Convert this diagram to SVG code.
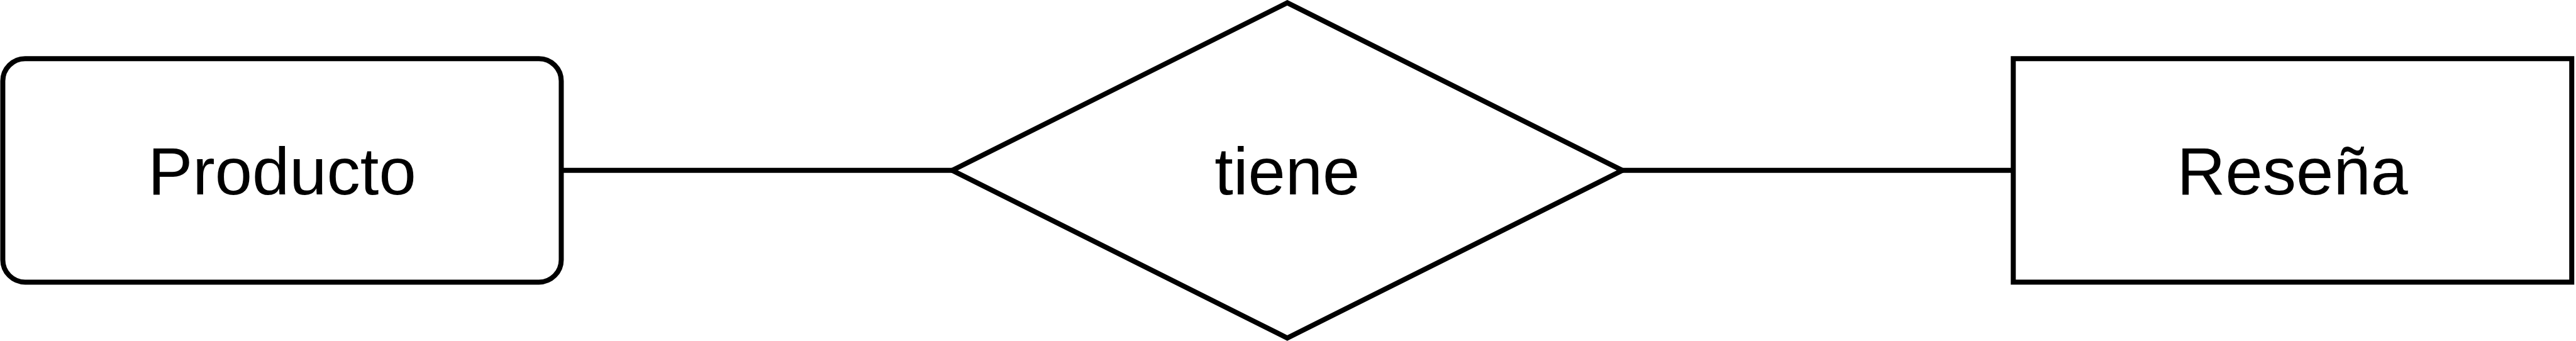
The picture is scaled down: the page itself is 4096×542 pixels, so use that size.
<svg xmlns="http://www.w3.org/2000/svg" width="4096" height="542" viewBox="0 0 4096 542">
<style>
.shape{fill:#ffffff;stroke:#000000;stroke-width:9}
.edge{fill:none;stroke:#000000;stroke-width:9}
.label{font-family:"Liberation Sans",Arial,Helvetica,sans-serif;font-size:120px;fill:#000000;text-anchor:middle}
</style>
<rect width="4096" height="542" fill="#ffffff"/>
<g transform="scale(0.888)">
<g id="connectors">
<line class="edge" x1="1005" y1="305" x2="1705" y2="305"/>
<line class="edge" x1="2905" y1="305" x2="3605" y2="305"/>
</g>
<g id="producto">
<rect class="shape" x="5" y="105" width="1000" height="400" rx="40" ry="40"/>
<text class="label" x="505" y="348">Producto</text>
</g>
<g id="tiene">
<polygon class="shape" points="2305,5 2905,305 2305,605 1705,305"/>
<text class="label" x="2305" y="348">tiene</text>
</g>
<g id="resena">
<rect class="shape" x="3605" y="105" width="1000" height="400"/>
<text class="label" x="4105" y="348">Reseña</text>
</g>
</g>
</svg>
